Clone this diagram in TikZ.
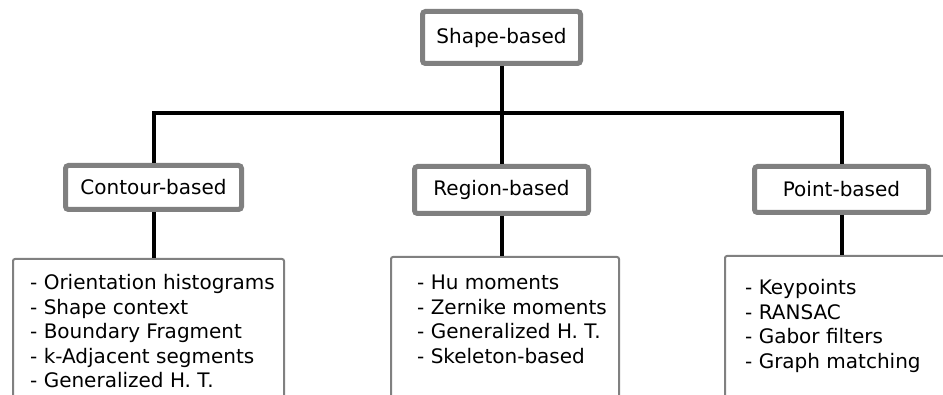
\documentclass[tikz,border=0pt]{standalone}
\usepackage{fontspec}
\setmainfont{DejaVu Sans}
\definecolor{boxgray}{HTML}{808080}
\begin{document}
\begin{tikzpicture}[x=1pt,y=-1pt,
  catbox/.style={draw=boxgray, line width=5pt, rounded corners=3pt, fill=white,
    font=\fontsize{20}{24}\selectfont, inner sep=0pt},
  listbox/.style={draw=boxgray, line width=2pt, rounded corners=2pt, fill=white,
    inner sep=0pt, anchor=north west},
  listtext/.style={font=\fontsize{20}{24.5}\selectfont, inner sep=0pt, anchor=base west},
  link/.style={line width=4pt, black, line join=miter}]
\useasboundingbox (0,0) rectangle (943,395);
\clip (0,0) rectangle (943,395);

% category boxes
\node[catbox, minimum width=158pt, minimum height=52pt] (shape)   at (501.5,37.5)  {Shape-based};
\node[catbox, minimum width=176pt, minimum height=44pt] (contour) at (153.5,187.5) {Contour-based};
\node[catbox, minimum width=174pt, minimum height=47pt] (region)  at (501.5,190)   {Region-based};
\node[catbox, minimum width=174pt, minimum height=46pt] (point)   at (841.5,189.5) {Point-based};

% list boxes (run past the lower edge)
\node[listbox, minimum width=271pt, minimum height=170pt] (contourlist) at (12,258)  {};
\node[listbox, minimum width=228pt, minimum height=170pt] (regionlist)  at (390,256) {};
\node[listbox, minimum width=240pt, minimum height=170pt] (pointlist)   at (724,255) {};

\node[listtext] (contourtext) at (30,290) {\begin{tabular}[t]{@{}l@{}}
- Orientation histograms\\ - Shape context\\ - Boundary Fragment\\
- k-Adjacent segments\\ - Generalized H. T.\end{tabular}};
\node[listtext] (regiontext) at (417,290) {\begin{tabular}[t]{@{}l@{}}
- Hu moments\\ - Zernike moments\\ - Generalized H. T.\\ - Skeleton-based\end{tabular}};
\node[listtext] (pointtext) at (745,295) {\begin{tabular}[t]{@{}l@{}}
- Keypoints\\ - RANSAC\\ - Gabor filters\\ - Graph matching\end{tabular}};

% tree connectors
\coordinate (bus) at (0,113);
\draw[link] (shape.south) -- (shape.south |- bus);
\draw[link] (contour.north) |- (point.north |- bus) -- (point.north);
\draw[link] (region.north) -- (region.north |- bus);
\draw[link] (contour.south) -- (contour.south |- contourlist.north);
\draw[link] (region.south) -- (region.south |- regionlist.north);
\draw[link] (point.south) -- (point.south |- pointlist.north);
\end{tikzpicture}
\end{document}
